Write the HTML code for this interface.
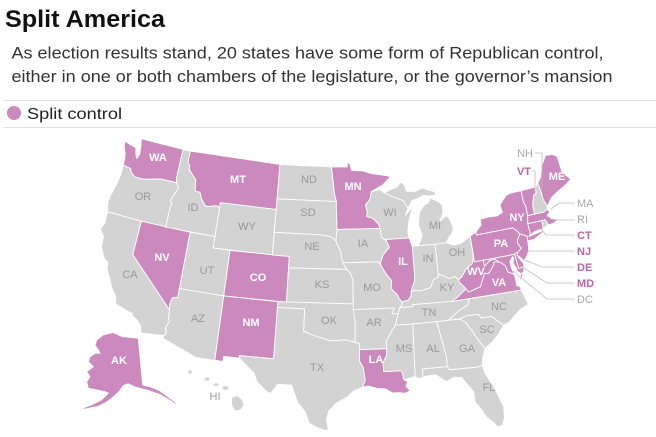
<!DOCTYPE html>
<html><head><meta charset="utf-8"><style>
html,body{margin:0;padding:0;background:#fff;}
svg{display:block;}
text{font-family:"Liberation Sans",Arial,sans-serif;}
.g{fill:#9a9a9a;font-size:11px;text-anchor:middle;}
.w{fill:#fff;font-size:11px;font-weight:bold;text-anchor:middle;}
.o{fill:#a8a8a8;font-size:11px;}
.p{fill:#b8679f;font-size:11px;font-weight:bold;}
</style></head><body>
<svg id="svg" width="656" height="437" viewBox="0 0 656 437" xmlns="http://www.w3.org/2000/svg">
<rect width="656" height="437" fill="#fff"/>
<text x="5" y="27" font-size="24" font-weight="bold" fill="#111" textLength="160" lengthAdjust="spacingAndGlyphs">Split America</text>
<text x="11.5" y="58.5" font-size="17" fill="#333" textLength="592" lengthAdjust="spacingAndGlyphs">As election results stand, 20 states have some form of Republican control,</text>
<text x="11.5" y="82" font-size="17" fill="#333" textLength="601" lengthAdjust="spacingAndGlyphs">either in one or both chambers of the legislature, or the governor’s mansion</text>
<line x1="3" y1="100.5" x2="656" y2="100.5" stroke="#e2e2e2" stroke-width="1"/>
<circle cx="14" cy="113" r="7" fill="#cc89bd"/>
<text x="27" y="119" font-size="16" fill="#222" textLength="95" lengthAdjust="spacingAndGlyphs">Split control</text>
<line x1="3" y1="127.5" x2="656" y2="127.5" stroke="#e2e2e2" stroke-width="1"/>
<g id="states" stroke="#fff" stroke-width="0.9" stroke-linejoin="round"></g>
<g fill="#d3d3d3">
<circle cx="190" cy="372" r="1.8"/>
<ellipse cx="207" cy="379" rx="2.4" ry="1.6"/>
<ellipse cx="216" cy="384.5" rx="2.6" ry="1.3"/>
<ellipse cx="225.5" cy="388" rx="3" ry="2"/>
<polygon points="232,398 237,396 242,400 243.5,405 240,410 235,410.5 232,405"/>
</g>
<g fill="none" stroke="#bdbdbd" stroke-width="0.8">
<path d="M535,153 H542 V190"/>
<path d="M532,171 H535 V192"/>
<path d="M575,203 H559 L551,209"/>
<path d="M575,220 H556 L552,219"/>
<path d="M575,235 H546 L541,229"/>
<path d="M575,251 H528"/>
<path d="M575,267 H542 L525,260"/>
<path d="M575,283 H547 L521,266"/>
<path d="M575,299 H547 L513,271"/>
</g>
<g>
<text class="w" x="158" y="161">WA</text>
<text class="w" x="238" y="183">MT</text>
<text class="g" x="309" y="183">ND</text>
<text class="w" x="353" y="190">MN</text>
<text class="g" x="143" y="200">OR</text>
<text class="g" x="193" y="211">ID</text>
<text class="g" x="308" y="216">SD</text>
<text class="g" x="247" y="230">WY</text>
<text class="g" x="312" y="250">NE</text>
<text class="g" x="363" y="247">IA</text>
<text class="w" x="162" y="261">NV</text>
<text class="g" x="207" y="274">UT</text>
<text class="w" x="258" y="281">CO</text>
<text class="g" x="130" y="278">CA</text>
<text class="g" x="322" y="288">KS</text>
<text class="g" x="390" y="216">WI</text>
<text class="g" x="435" y="229">MI</text>
<text class="w" x="517" y="221">NY</text>
<text class="w" x="501" y="247">PA</text>
<text class="g" x="457" y="256">OH</text>
<text class="w" x="403" y="265">IL</text>
<text class="g" x="428" y="262">IN</text>
<text class="w" x="476" y="275">WV</text>
<text class="w" x="499" y="286">VA</text>
<text class="g" x="447" y="291">KY</text>
<text class="g" x="372" y="291">MO</text>
<text class="g" x="198" y="322">AZ</text>
<text class="w" x="251" y="326">NM</text>
<text class="g" x="329" y="324">OK</text>
<text class="g" x="317" y="371">TX</text>
<text class="w" x="119" y="364">AK</text>
<text class="g" x="215" y="400">HI</text>
<text class="g" x="429" y="316">TN</text>
<text class="g" x="499" y="310">NC</text>
<text class="g" x="374" y="326">AR</text>
<text class="g" x="487" y="333">SC</text>
<text class="g" x="404" y="352">MS</text>
<text class="g" x="433" y="352">AL</text>
<text class="g" x="467" y="352">GA</text>
<text class="w" x="376" y="363">LA</text>
<text class="g" x="489" y="391">FL</text>
<text class="w" x="557" y="180">ME</text>
<text class="o" x="533" y="157" text-anchor="end">NH</text>
<text class="p" x="531" y="175" text-anchor="end">VT</text>
<text class="o" x="577" y="207">MA</text>
<text class="o" x="577" y="223">RI</text>
<text class="p" x="577" y="239">CT</text>
<text class="p" x="577" y="255">NJ</text>
<text class="p" x="577" y="271">DE</text>
<text class="p" x="577" y="287">MD</text>
<text class="o" x="577" y="303">DC</text>
</g>
</svg>
<script>
(function(){
var PI=Math.PI, r=PI/180;
var n=(Math.sin(29.5*r)+Math.sin(45.5*r))/2;
var C=Math.cos(29.5*r)*Math.cos(29.5*r)+2*n*Math.sin(29.5*r);
var K=652, TX=340.8, TY=-551.5;
function P(lon,lat){var rho=Math.sqrt(C-2*n*Math.sin(lat*r))/n;var th=n*(lon+96)*r;return [TX+K*rho*Math.sin(th),TY+K*rho*Math.cos(th)];}
var PINK="#cc89bd",GRAY="#d3d3d3";
var S={
WA:[1,[[-124.7,48.4],[-123.8,48.2],[-123.1,48.1],[-122.9,47.6],[-122.6,47.2],[-122.4,47.6],[-122.5,48.3],[-122.75,49.0],[-117.03,49.0],[-117.04,46.42],[-116.92,46.0],[-118.98,46.0],[-119.5,45.9],[-120.5,45.7],[-121.2,45.6],[-122.2,45.6],[-122.8,45.9],[-123.0,46.2],[-123.5,46.25],[-124.0,46.3],[-124.1,46.9],[-124.2,47.3],[-124.6,47.9]]],
OR:[0,[[-124.0,46.3],[-123.5,46.25],[-123.0,46.2],[-122.8,45.9],[-122.2,45.6],[-121.2,45.6],[-120.5,45.7],[-119.5,45.9],[-118.98,46.0],[-116.92,46.0],[-116.5,45.6],[-116.8,45.1],[-117.2,44.3],[-116.9,44.2],[-117.03,43.8],[-117.03,42.0],[-120.0,42.0],[-124.2,42.0],[-124.5,42.8],[-124.4,43.5],[-124.1,44.6],[-123.95,45.5]]],
CA:[0,[[-124.2,42.0],[-120.0,42.0],[-120.0,39.0],[-114.63,35.0],[-114.6,34.3],[-114.4,34.1],[-114.7,33.4],[-114.5,33.0],[-114.72,32.72],[-117.12,32.53],[-117.3,33.1],[-117.9,33.6],[-118.4,33.8],[-118.5,34.03],[-119.2,34.15],[-120.5,34.5],[-120.65,35.1],[-121.3,35.7],[-121.9,36.6],[-122.4,37.2],[-122.5,37.8],[-123.0,38.0],[-123.7,38.9],[-123.8,39.8],[-124.4,40.4],[-124.1,41.0]]],
NV:[1,[[-120.0,42.0],[-114.04,42.0],[-114.04,36.2],[-114.6,36.1],[-114.75,35.5],[-114.63,35.0],[-120.0,39.0]]],
ID:[0,[[-117.03,49.0],[-116.05,49.0],[-116.05,47.98],[-115.7,47.7],[-115.7,47.4],[-114.6,46.6],[-114.4,45.6],[-113.8,45.6],[-113.4,45.0],[-112.8,44.5],[-112.4,44.5],[-111.4,44.7],[-111.05,44.5],[-111.05,42.0],[-117.03,42.0],[-117.03,43.8],[-116.9,44.2],[-117.2,44.3],[-116.8,45.1],[-116.5,45.6],[-116.92,46.0],[-117.04,46.42]]],
MT:[1,[[-116.05,49.0],[-104.05,49.0],[-104.05,45.0],[-111.05,45.0],[-111.05,44.5],[-111.4,44.7],[-112.4,44.5],[-112.8,44.5],[-113.4,45.0],[-113.8,45.6],[-114.4,45.6],[-114.6,46.6],[-115.7,47.4],[-115.7,47.7],[-116.05,47.98]]],
WY:[0,[[-111.05,45.0],[-104.05,45.0],[-104.05,41.0],[-111.05,41.0]]],
UT:[0,[[-114.04,42.0],[-111.05,42.0],[-111.05,41.0],[-109.05,41.0],[-109.05,37.0],[-114.04,37.0]]],
CO:[1,[[-109.05,41],[-102.05,41],[-102.05,37],[-109.05,37]]],
AZ:[0,[[-114.04,37.0],[-109.05,37.0],[-109.05,31.33],[-111.07,31.33],[-114.81,32.5],[-114.72,32.72],[-114.5,33.0],[-114.7,33.4],[-114.4,34.1],[-114.6,34.3],[-114.63,35.0],[-114.75,35.5],[-114.6,36.1],[-114.04,36.2]]],
NM:[1,[[-109.05,37],[-103.0,37],[-103.0,32.0],[-106.62,32.0],[-106.53,31.78],[-108.2,31.78],[-108.2,31.33],[-109.05,31.33]]],
ND:[0,[[-104.05,49],[-97.23,49],[-96.8,46.6],[-96.56,45.94],[-104.05,45.94]]],
SD:[0,[[-104.05,45.94],[-96.56,45.94],[-96.56,45.4],[-96.45,43.5],[-96.6,42.5],[-97.2,42.85],[-98.5,43.0],[-104.05,43.0]]],
NE:[0,[[-104.05,43.0],[-98.5,43.0],[-97.2,42.85],[-96.6,42.5],[-96.0,41.5],[-95.9,41.0],[-95.3,40.0],[-102.05,40.0],[-102.05,41.0],[-104.05,41.0]]],
KS:[0,[[-102.05,40],[-95.3,40],[-94.9,39.7],[-94.6,39.1],[-94.62,37.0],[-102.05,37.0]]],
OK:[0,[[-103.0,37.0],[-94.62,37.0],[-94.43,35.4],[-94.48,33.64],[-95.5,33.88],[-96.5,33.8],[-97.2,33.8],[-98.0,34.0],[-99.2,34.3],[-100.0,34.56],[-100.0,36.5],[-103.0,36.5]]],
TX:[0,[[-103.0,36.5],[-100.0,36.5],[-100.0,34.56],[-99.2,34.3],[-98.0,34.0],[-97.2,33.8],[-96.5,33.8],[-95.5,33.88],[-94.48,33.64],[-94.04,33.55],[-94.04,32.0],[-93.7,31.5],[-93.5,30.3],[-93.8,29.7],[-94.7,29.4],[-95.3,28.9],[-96.5,28.3],[-97.2,27.6],[-97.4,26.8],[-97.2,25.95],[-97.5,25.9],[-98.2,26.1],[-99.1,26.5],[-99.5,27.5],[-100.3,28.3],[-101.0,29.8],[-101.7,29.8],[-102.4,29.8],[-103.0,29.0],[-103.3,29.0],[-104.0,29.5],[-104.5,29.9],[-104.9,30.6],[-106.0,31.4],[-106.53,31.78],[-106.62,32.0],[-103.0,32.0]]],
MN:[1,[[-97.23,49],[-95.15,49],[-95.15,49.38],[-94.8,49.3],[-94.6,48.7],[-93.0,48.6],[-92.0,48.35],[-90.0,48.1],[-89.5,48.0],[-90.6,47.3],[-92.1,46.75],[-92.3,46.1],[-92.9,45.6],[-92.7,45.0],[-92.8,44.6],[-92.0,44.4],[-91.4,43.9],[-91.22,43.5],[-96.45,43.5],[-96.56,45.4],[-96.56,45.94],[-96.8,46.6]]],
IA:[0,[[-96.45,43.5],[-91.22,43.5],[-91.1,42.7],[-90.6,42.4],[-90.2,41.8],[-91.0,41.2],[-91.4,40.4],[-91.7,40.6],[-95.77,40.58],[-95.9,41.0],[-96.0,41.5],[-96.6,42.5]]],
MO:[0,[[-95.77,40.58],[-91.7,40.6],[-91.4,40.4],[-91.0,39.8],[-90.6,39.3],[-90.2,38.9],[-90.3,38.2],[-89.6,37.6],[-89.5,37.3],[-89.2,37.0],[-89.2,36.7],[-89.5,36.5],[-89.7,36.0],[-90.37,36.0],[-90.1,36.5],[-94.62,36.5],[-94.62,37.0],[-94.6,39.1],[-94.9,39.7],[-95.3,40.0]]],
AR:[0,[[-94.62,36.5],[-90.1,36.5],[-90.37,36.0],[-89.7,36.0],[-90.1,35.0],[-90.6,34.4],[-91.2,33.6],[-91.15,33.0],[-94.04,33.0],[-94.04,33.55],[-94.48,33.64],[-94.43,35.4]]],
LA:[1,[[-94.04,33.0],[-91.15,33.0],[-91.2,32.4],[-91.6,31.8],[-91.6,31.0],[-89.73,31.0],[-89.55,30.2],[-89.2,30.0],[-89.4,29.6],[-89.0,29.2],[-89.5,29.0],[-90.2,29.1],[-90.8,29.1],[-91.5,29.5],[-92.3,29.55],[-93.2,29.8],[-93.8,29.7],[-93.5,30.3],[-93.7,31.5],[-94.04,32.0]]],
WI:[0,[[-92.1,46.75],[-91.0,46.9],[-90.4,46.57],[-89.1,46.1],[-88.1,45.8],[-87.8,45.35],[-87.6,45.1],[-88.0,44.5],[-87.6,44.8],[-87.0,45.25],[-87.3,44.7],[-87.5,44.2],[-87.7,43.8],[-87.9,43.0],[-87.8,42.5],[-90.6,42.5],[-91.1,42.7],[-91.22,43.5],[-91.4,43.9],[-92.0,44.4],[-92.8,44.6],[-92.7,45.0],[-92.9,45.6],[-92.3,46.1]]],
MIU:[0,[[-90.4,46.57],[-89.9,46.8],[-88.9,47.0],[-88.2,47.45],[-87.8,47.1],[-87.6,46.6],[-86.5,46.5],[-85.5,46.75],[-84.9,46.5],[-84.1,46.3],[-83.9,46.0],[-84.7,45.95],[-85.5,46.1],[-86.3,45.85],[-87.0,45.75],[-87.6,45.1],[-87.8,45.35],[-88.1,45.8],[-89.1,46.1]]],
MIL:[0,[[-86.8,41.76],[-84.8,41.7],[-83.45,41.73],[-83.1,42.1],[-82.5,42.6],[-82.4,43.0],[-82.6,43.6],[-82.9,44.05],[-83.4,43.9],[-83.9,43.65],[-83.4,44.3],[-83.3,45.0],[-83.8,45.4],[-84.7,45.8],[-85.0,45.4],[-85.6,45.2],[-86.2,44.7],[-86.4,44.1],[-86.5,43.5],[-86.2,42.6],[-86.5,42.1]]],
IL:[1,[[-90.6,42.5],[-87.8,42.5],[-87.5,41.7],[-87.53,39.5],[-87.6,38.7],[-87.9,38.2],[-88.1,37.8],[-88.1,37.5],[-88.5,37.1],[-89.2,37.0],[-89.5,37.3],[-89.6,37.6],[-90.3,38.2],[-90.2,38.9],[-90.6,39.3],[-91.0,39.8],[-91.4,40.4],[-91.0,41.2],[-90.2,41.8]]],
IN:[0,[[-87.5,41.76],[-84.8,41.7],[-84.82,39.1],[-84.9,38.8],[-85.4,38.7],[-85.9,38.0],[-86.5,37.9],[-87.1,37.8],[-87.6,37.9],[-88.1,37.8],[-87.9,38.2],[-87.6,38.7],[-87.53,39.5]]],
OH:[0,[[-84.8,41.7],[-83.45,41.73],[-82.7,41.45],[-81.7,41.5],[-80.52,41.98],[-80.52,40.64],[-80.6,40.0],[-80.8,39.6],[-81.6,39.2],[-81.9,38.9],[-82.2,38.6],[-82.6,38.4],[-83.0,38.7],[-83.7,38.6],[-84.3,38.9],[-84.82,39.1]]],
KY:[0,[[-89.5,36.5],[-88.05,36.5],[-88.07,36.68],[-83.7,36.6],[-83.0,36.9],[-82.3,37.3],[-81.97,37.54],[-82.6,38.2],[-82.6,38.4],[-83.0,38.7],[-83.7,38.6],[-84.3,38.9],[-84.82,39.1],[-84.9,38.8],[-85.4,38.7],[-85.9,38.0],[-86.5,37.9],[-87.1,37.8],[-87.6,37.9],[-88.1,37.8],[-88.1,37.5],[-88.5,37.1],[-89.2,37.0],[-89.2,36.7]]],
TN:[0,[[-90.1,35.0],[-88.2,35.0],[-85.6,35.0],[-84.3,35.0],[-84.0,35.2],[-83.1,35.7],[-82.0,36.1],[-81.7,36.6],[-83.7,36.6],[-88.07,36.68],[-88.05,36.5],[-89.5,36.5],[-89.7,36.0]]],
MS:[0,[[-91.15,33.0],[-91.2,32.4],[-91.6,31.8],[-91.6,31.0],[-89.73,31.0],[-89.55,30.2],[-88.4,30.4],[-88.2,35.0],[-90.1,35.0],[-90.6,34.4],[-91.2,33.6]]],
AL:[0,[[-88.2,35.0],[-85.6,35.0],[-85.0,32.0],[-85.0,31.0],[-87.6,31.0],[-87.6,30.3],[-88.0,30.2],[-88.4,30.4]]],
GA:[0,[[-85.6,35.0],[-83.1,35.0],[-82.4,34.5],[-81.5,33.0],[-80.9,32.1],[-81.3,31.3],[-81.45,30.7],[-82.0,30.6],[-84.86,30.7],[-85.0,31.0],[-85.0,32.0]]],
FL:[0,[[-87.6,31.0],[-85.0,31.0],[-84.86,30.7],[-82.0,30.6],[-81.45,30.7],[-81.3,30.0],[-80.6,28.6],[-80.0,26.8],[-80.1,25.8],[-80.4,25.2],[-80.9,25.1],[-81.2,25.6],[-81.8,26.1],[-82.2,26.9],[-82.7,27.6],[-82.7,28.5],[-83.2,29.2],[-83.7,29.9],[-84.4,30.0],[-85.3,29.7],[-86.3,30.4],[-87.3,30.35],[-87.6,30.3]]],
SC:[0,[[-83.1,35.0],[-82.3,35.2],[-81.0,35.15],[-80.8,34.8],[-79.7,34.8],[-78.55,33.86],[-79.2,33.2],[-80.0,32.6],[-80.9,32.1],[-81.5,33.0],[-82.4,34.5]]],
NC:[0,[[-84.3,35.0],[-83.1,35.0],[-82.3,35.2],[-81.0,35.15],[-80.8,34.8],[-79.7,34.8],[-78.55,33.86],[-77.9,34.0],[-77.0,34.6],[-76.5,34.9],[-75.5,35.2],[-75.9,36.55],[-81.7,36.6],[-82.0,36.1],[-83.1,35.7],[-84.0,35.2]]],
VA:[1,[[-83.7,36.6],[-75.9,36.55],[-76.0,36.9],[-76.3,37.0],[-76.3,37.6],[-76.3,38.0],[-77.0,38.35],[-77.1,38.9],[-77.5,39.2],[-77.72,39.32],[-78.3,39.4],[-78.4,39.2],[-78.8,38.8],[-79.2,38.5],[-79.6,38.6],[-80.0,38.0],[-80.3,37.5],[-81.2,37.3],[-81.7,37.2],[-81.97,37.54],[-82.3,37.3],[-83.0,36.9]]],
VAE:[1,[[-75.97,37.15],[-75.6,37.95],[-75.25,38.03],[-75.65,37.5]]],
WV:[1,[[-82.6,38.4],[-82.6,38.2],[-81.97,37.54],[-81.7,37.2],[-81.2,37.3],[-80.3,37.5],[-80.0,38.0],[-79.6,38.6],[-79.2,38.5],[-78.8,38.8],[-78.4,39.2],[-78.3,39.4],[-77.72,39.32],[-78.2,39.65],[-78.8,39.58],[-79.48,39.2],[-79.48,39.72],[-80.52,39.72],[-80.52,40.64],[-80.6,40.0],[-80.8,39.6],[-81.6,39.2],[-81.9,38.9],[-82.2,38.6]]],
MD:[1,[[-79.48,39.72],[-75.79,39.72],[-75.7,38.45],[-75.05,38.45],[-75.25,38.03],[-75.6,37.95],[-75.9,38.2],[-76.0,38.6],[-76.2,39.0],[-76.0,39.4],[-76.1,39.55],[-76.5,39.2],[-76.5,38.7],[-76.3,38.0],[-77.0,38.35],[-77.1,38.9],[-77.5,39.2],[-77.72,39.32],[-78.2,39.65],[-78.8,39.58],[-79.48,39.2]]],
DE:[1,[[-75.79,39.72],[-75.6,39.83],[-75.4,39.8],[-75.55,39.6],[-75.4,39.3],[-75.05,38.8],[-75.05,38.45],[-75.7,38.45]]],
PA:[1,[[-80.52,41.98],[-79.76,42.27],[-79.76,42.0],[-75.35,42.0],[-75.1,41.8],[-74.7,41.35],[-75.1,40.9],[-75.2,40.6],[-74.9,40.1],[-75.4,39.8],[-75.6,39.83],[-75.79,39.72],[-80.52,39.72]]],
NJ:[1,[[-74.7,41.35],[-73.9,41.0],[-74.0,40.6],[-74.0,40.4],[-74.1,39.8],[-74.4,39.4],[-74.95,38.93],[-75.1,39.2],[-75.55,39.6],[-75.4,39.8],[-74.9,40.1],[-75.2,40.6],[-75.1,40.9]]],
NY:[1,[[-79.76,42.0],[-79.76,42.27],[-79.0,42.8],[-79.0,43.3],[-78.0,43.35],[-76.9,43.3],[-76.2,43.5],[-76.3,44.2],[-75.3,44.9],[-74.7,45.0],[-73.35,45.0],[-73.4,44.0],[-73.25,43.6],[-73.28,42.75],[-73.5,42.05],[-73.49,41.1],[-73.7,40.95],[-72.0,41.15],[-71.9,41.05],[-73.2,40.6],[-74.0,40.6],[-73.9,41.0],[-74.7,41.35],[-75.1,41.8],[-75.35,42.0]]],
CT:[1,[[-73.5,42.05],[-71.8,42.02],[-71.86,41.32],[-72.9,41.25],[-73.7,40.95],[-73.49,41.1]]],
RI:[0,[[-71.8,42.02],[-71.38,42.02],[-71.2,41.6],[-71.4,41.45],[-71.86,41.32]]],
MA:[1,[[-73.5,42.05],[-73.28,42.75],[-72.45,42.73],[-71.3,42.7],[-70.8,42.87],[-70.6,42.6],[-71.0,42.3],[-70.6,41.95],[-70.0,41.8],[-70.05,42.05],[-69.95,41.7],[-70.5,41.55],[-71.1,41.5],[-71.2,41.6],[-71.38,42.02],[-71.8,42.02]]],
VT:[1,[[-73.35,45.0],[-71.5,45.01],[-71.6,44.5],[-72.0,44.3],[-72.4,43.5],[-72.45,42.73],[-73.28,42.75],[-73.25,43.6],[-73.4,44.0]]],
NH:[0,[[-71.5,45.01],[-71.08,45.3],[-70.98,44.5],[-70.98,43.8],[-70.7,43.1],[-70.8,42.87],[-71.3,42.7],[-72.45,42.73],[-72.4,43.5],[-72.0,44.3],[-71.6,44.5]]],
ME:[1,[[-71.08,45.3],[-70.6,45.7],[-70.2,46.4],[-70.0,46.7],[-69.2,47.46],[-68.3,47.35],[-67.8,47.07],[-67.8,45.7],[-67.4,45.2],[-67.0,44.8],[-68.0,44.4],[-69.0,44.1],[-70.0,43.7],[-70.7,43.1],[-70.98,43.8],[-70.98,44.5]]]
};
var g=document.getElementById("states"),NS="http://www.w3.org/2000/svg";
function add(d,fill){var p=document.createElementNS(NS,"path");p.setAttribute("d",d);p.setAttribute("fill",fill);g.appendChild(p);}
for(var k in S){var pts=S[k][1].map(function(q){var v=P(q[0],q[1]);return v[0].toFixed(1)+","+v[1].toFixed(1);});add("M"+pts.join("L")+"Z",S[k][0]?PINK:GRAY);}
var AK=[[103,335],[113,332.5],[122,336.5],[138.3,338.3],[142.7,385],[150,386.7],[158.3,390],[163.3,393.3],[170,398.3],[176.7,403.3],[175,404],[170,400.5],[160,394.5],[148.3,390.5],[141.7,388.8],[135,387],[128.3,383.8],[123.3,385.5],[120,390.5],[113.3,397],[106.7,402],[98.3,406.3],[88.3,408.5],[81.7,409.6],[83.3,408],[91.7,404.7],[101.7,399.7],[108.3,393.3],[105,391.7],[96.7,390],[88.3,388.3],[86.7,381.7],[90,376.7],[86.7,371.7],[93.3,366.7],[88.3,361.7],[90,356.7],[95,353.3],[100,353.3],[98.3,350],[95,345],[96.7,340]];
add("M"+AK.map(function(q){return q.join(",");}).join("L")+"Z",PINK);
})();
</script>
</body></html>
